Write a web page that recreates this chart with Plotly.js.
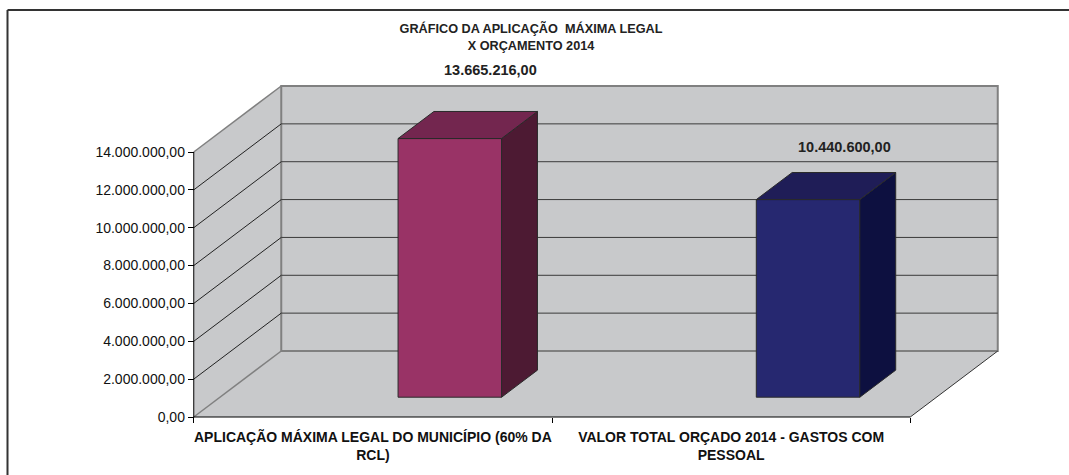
<!DOCTYPE html>
<html>
<head>
<meta charset="utf-8">
<script src="https://cdn.plot.ly/plotly-3.0.1.min.js"></script>
<style>
  html, body { margin: 0; padding: 0; background: #ffffff; }
  #chart { width: 1069px; height: 475px; }
</style>
</head>
<body>
<div id="chart"></div>
<script>
// ---------------- DATA ----------------
const categories = [
  "APLICAÇÃO MÁXIMA LEGAL DO MUNICÍPIO (60% DA RCL)",
  "VALOR TOTAL ORÇADO 2014 - GASTOS COM PESSOAL"
];
const tickLabels = [
  "APLICAÇÃO MÁXIMA LEGAL DO MUNICÍPIO (60% DA<br>RCL)",
  "VALOR TOTAL ORÇADO 2014 - GASTOS COM<br>PESSOAL"
];
const values = [13665216.00, 10440600.00];
const valueTicks = [0, 2000000, 4000000, 6000000, 8000000, 10000000, 12000000, 14000000];
const titleText = "GRÁFICO DA APLICAÇÃO  MÁXIMA LEGAL<br>X ORÇAMENTO 2014";

// ---------------- STYLE / GEOMETRY ----------------
const frontColors = ["#993366", "#262870"];
const topColors   = ["#73264f", "#1f1d57"];
const sideColors  = ["#4d1a33", "#0d1040"];
const WALL = "#c8c9cb";
const EDGE = "#808080";
const FONT = "Liberation Sans, Arial, sans-serif";

const W = 1069, H = 475;
const ML = 176, MR = 0, MT = 15, MB = 50;
const PW = W - ML - MR, PH = H - MT - MB;
const X0PX = 193.75;        // pixel of front-left floor corner
const Y0PX = 417;           // pixel of front floor (value 0)
const CAT_PX = 358.25;      // pixels per category on the front floor
const AXIS_MAX = valueTicks[valueTicks.length - 1];
const AX_PX = 265;          // pixels spanned by 0..AXIS_MAX
const XMIN = (ML - X0PX) / CAT_PX;
const XMAX = (W - MR - X0PX) / CAT_PX;
const VPP = AXIS_MAX / AX_PX;
const YMIN = -((H - MB) - Y0PX) * VPP;
const YMAX = (Y0PX - MT) * VPP;
const DX = 87.5 / CAT_PX;   // depth offset (x)
const DY = 66 * VPP;        // depth offset (y)
const F0 = 0.30, F1 = 0.71; // bar depth fraction (front, back)
const BAR_START = 0.497, BAR_W = 0.289;
const NCAT = categories.length;

function fmt(v) {
  const s = Math.round(v).toString().replace(/\B(?=(\d{3})+(?!\d))/g, ".");
  return s + ",00";
}
const pxX = px => (px - ML) / PW;
const pxY = py => ((H - MB) - py) / PH;

// ---------------- TRACES ----------------
const traces = [];
// front faces as real bars
traces.push({
  type: "bar",
  x: values.map((v, i) => i + BAR_START + F0 * DX + BAR_W / 2),
  y: values,
  base: values.map(() => F0 * DY),
  width: values.map(() => BAR_W),
  marker: { color: frontColors, line: { color: "#2a2a2a", width: 1 } },
  hoverinfo: "skip",
  showlegend: false
});
values.forEach((v, i) => {
  const xl = i + BAR_START + F0 * DX, xr = xl + BAR_W;
  const ddx = (F1 - F0) * DX;
  const yb0 = F0 * DY, yb1 = F1 * DY;
  // side face
  traces.push({
    type: "scatter", mode: "lines", fill: "toself",
    x: [xr, xr, xr + ddx, xr + ddx, xr],
    y: [yb0, v + yb0, v + yb1, yb1, yb0],
    fillcolor: sideColors[i], line: { color: "#2a2a2a", width: 1 },
    hoverinfo: "skip", showlegend: false
  });
  // top face
  traces.push({
    type: "scatter", mode: "lines", fill: "toself",
    x: [xl, xr, xr + ddx, xl + ddx, xl],
    y: [v + yb0, v + yb0, v + yb1, v + yb1, v + yb0],
    fillcolor: topColors[i], line: { color: "#2a2a2a", width: 1 },
    hoverinfo: "skip", showlegend: false
  });
});

// ---------------- SHAPES (walls, floor, grid) ----------------
const shapes = [];
const XR = NCAT;
shapes.push({ type: "path", xref: "x", yref: "y", layer: "below",
  path: `M0,0 L${DX},${DY} L${DX},${AXIS_MAX + DY} L0,${AXIS_MAX} Z`,
  fillcolor: WALL, line: { width: 0 } });
shapes.push({ type: "path", xref: "x", yref: "y", layer: "below",
  path: `M0,0 L${XR},0 L${XR + DX},${DY} L${DX},${DY} Z`,
  fillcolor: WALL, line: { width: 0 } });
shapes.push({ type: "rect", xref: "x", yref: "y", layer: "below",
  x0: DX, x1: XR + DX, y0: DY, y1: AXIS_MAX + DY,
  fillcolor: WALL, line: { color: EDGE, width: 2 } });
valueTicks.forEach(v => {
  if (v === 0 || v === AXIS_MAX) return;
  shapes.push({ type: "line", xref: "x", yref: "y", layer: "below",
    x0: DX, x1: XR + DX, y0: v + DY, y1: v + DY, line: { color: "#3a3a3a", width: 1 } });
  shapes.push({ type: "line", xref: "x", yref: "y", layer: "below",
    x0: 0, x1: DX, y0: v, y1: v + DY, line: { color: "#222", width: 1 } });
});
// wall edges
shapes.push({ type: "line", xref: "x", yref: "y", layer: "below",
  x0: 0, x1: DX, y0: AXIS_MAX, y1: AXIS_MAX + DY, line: { color: EDGE, width: 1.5 } });
shapes.push({ type: "line", xref: "x", yref: "y", layer: "below",
  x0: 0, x1: DX, y0: 0, y1: DY, line: { color: EDGE, width: 1.5 } });
shapes.push({ type: "line", xref: "x", yref: "y", layer: "below",
  x0: XR, x1: XR + DX, y0: 0, y1: DY, line: { color: "#333", width: 1 } });
// front axis lines
shapes.push({ type: "line", xref: "x", yref: "y", layer: "below",
  x0: 0, x1: 0, y0: 0, y1: AXIS_MAX, line: { color: "#000", width: 1 } });
shapes.push({ type: "line", xref: "x", yref: "y", layer: "below",
  x0: 0, x1: XR, y0: 0, y1: 0, line: { color: "#000", width: 1 } });
// outer chart frame (top and left)
shapes.push({ type: "line", xref: "paper", yref: "paper",
  x0: pxX(7.5), x1: pxX(W + 2), y0: pxY(10), y1: pxY(10), line: { color: "#333", width: 2 } });
shapes.push({ type: "line", xref: "paper", yref: "paper",
  x0: pxX(7.5), x1: pxX(7.5), y0: pxY(10), y1: pxY(H + 2), line: { color: "#333", width: 2 } });

// ---------------- DATA LABELS ----------------
const labelShift = [{ x: 5, y: 41 }, { x: 1, y: 26 }];
const annotations = values.map((v, i) => ({
  xref: "x", yref: "y",
  x: i + BAR_START + F1 * DX + BAR_W / 2,
  y: v + F1 * DY,
  text: fmt(v), showarrow: false,
  xanchor: "center", yanchor: "middle",
  xshift: labelShift[i].x, yshift: labelShift[i].y,
  font: { family: FONT, size: 14.5, color: "#222", weight: "bold" }
}));

const layout = {
  width: W, height: H,
  margin: { l: ML, r: MR, t: MT, b: MB, pad: 0 },
  paper_bgcolor: "#ffffff", plot_bgcolor: "rgba(0,0,0,0)",
  showlegend: false,
  bargap: 0,
  title: {
    text: titleText,
    x: 531 / W, xanchor: "center", y: 1 - 33 / H, yanchor: "top",
    font: { family: FONT, size: 12.7, color: "#222", weight: "bold" }
  },
  font: { family: FONT, color: "#111" },
  xaxis: {
    type: "linear", range: [XMIN, XMAX], fixedrange: true,
    tickmode: "array", tickvals: categories.map((c, i) => i + 0.5), ticktext: tickLabels,
    ticks: "", showgrid: false, zeroline: false, showline: false,
    tickfont: { family: FONT, size: 14, color: "#111", weight: "bold" },
    minor: { tickmode: "array", tickvals: categories.map((c, i) => i).concat([NCAT]),
             ticks: "outside", ticklen: 5, tickcolor: "#000", tickwidth: 1, showgrid: false },
    anchor: "free", position: (0 - YMIN) / (YMAX - YMIN),
    ticklabelstandoff: 10
  },
  yaxis: {
    type: "linear", range: [YMIN, YMAX], fixedrange: true,
    tickmode: "array", tickvals: valueTicks, ticktext: valueTicks.map(fmt),
    ticks: "outside", ticklen: 6, tickcolor: "#000", tickwidth: 1,
    showgrid: false, zeroline: false, showline: false,
    tickfont: { family: FONT, size: 14, color: "#111" },
    anchor: "free", position: (0 - XMIN) / (XMAX - XMIN)
  },
  shapes: shapes,
  annotations: annotations
};

Plotly.newPlot("chart", traces, layout, { displayModeBar: false, staticPlot: true });
</script>
</body>
</html>
